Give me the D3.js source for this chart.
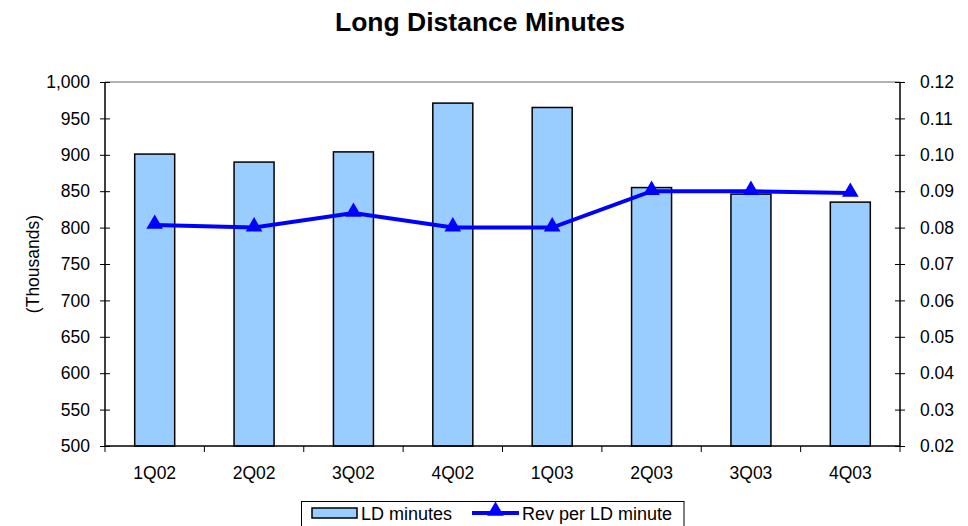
<!DOCTYPE html>
<html><head><meta charset="utf-8">
<script src="https://cdn.jsdelivr.net/npm/d3@7/dist/d3.min.js"></script>
<style>body{margin:0;background:#fff}svg{display:block;font-family:"Liberation Sans",Arial,sans-serif}</style>
</head><body><svg id="c" width="968" height="526"></svg>
<script>
const categories = ["1Q02","2Q02","3Q02","4Q02","1Q03","2Q03","3Q03","4Q03"];
const ldMinutes = [901, 890, 904, 971, 965, 855, 846, 835];
const revPerMinute = [0.0807, 0.0800, 0.0840, 0.0800, 0.0800, 0.0900, 0.0900, 0.0895];
const leftTicks = [500,550,600,650,700,750,800,850,900,950,1000];
const rightTicks = [0.02,0.03,0.04,0.05,0.06,0.07,0.08,0.09,0.10,0.11,0.12];

const svg = d3.select("#c");
const L = 105, R = 900, T = 82, B = 446;
const FS = 17.5;
const x = d3.scaleBand().domain(categories).range([L, R]);
const yL = d3.scaleLinear().domain([500, 1000]).range([B, T]);
const yR = d3.scaleLinear().domain([0.02, 0.12]).range([B, T]);
const barW = 40;

svg.append("text").attr("x", 480).attr("y", 31).attr("text-anchor", "middle")
  .attr("font-size", 26.5).attr("font-weight", "bold").text("Long Distance Minutes");

// plot top border
svg.append("line").attr("x1", L).attr("x2", R).attr("y1", T).attr("y2", T)
  .attr("stroke", "#999").attr("stroke-width", 1.5);

// bars
svg.append("g").selectAll("rect").data(ldMinutes).join("rect")
  .attr("x", (d, i) => x(categories[i]) + x.bandwidth() / 2 - barW / 2)
  .attr("y", d => yL(d)).attr("width", barW).attr("height", d => B - yL(d))
  .attr("fill", "#99CCFF").attr("stroke", "#000").attr("stroke-width", 1.5);

// left axis
const gl = svg.append("g").attr("transform", `translate(${L},0)`)
  .call(d3.axisLeft(yL).tickValues(leftTicks).tickFormat(d3.format(",")).tickSize(5).tickPadding(10));
gl.selectAll(".tick line").attr("x2", 5).attr("x1", -5);
// right axis
const gr = svg.append("g").attr("transform", `translate(${R},0)`)
  .call(d3.axisRight(yR).tickValues(rightTicks).tickFormat(d3.format(".2f")).tickSize(5).tickPadding(15));
gr.selectAll(".tick line").attr("x1", -5).attr("x2", 5);
// bottom axis
const gb = svg.append("g").attr("transform", `translate(0,${B})`)
  .call(d3.axisBottom(x).tickSize(0).tickPadding(21));
gb.selectAll(".tick text").attr("dy", "0.71em");
svg.append("g").selectAll("line").data(d3.range(categories.length + 1)).join("line")
  .attr("x1", i => L + i * x.step()).attr("x2", i => L + i * x.step())
  .attr("y1", B).attr("y2", B + 6).attr("stroke", "#000").attr("stroke-width", 1);

[gl, gr, gb].forEach(g => {
  g.selectAll(".domain").attr("stroke", "#000").attr("stroke-width", 1.5);
  g.selectAll(".tick line").attr("stroke", "#000");
  g.selectAll(".tick text").attr("font-size", FS).attr("fill", "#000").attr("font-family", "Liberation Sans, Arial, sans-serif");
});
gl.select(".domain").attr("d", `M0,${T}V${B}`);
gr.select(".domain").attr("d", `M0,${T}V${B}`);
gb.select(".domain").attr("d", `M${L},0H${R}`);

// y label
svg.append("text").attr("transform", `translate(39,${(T + B) / 2}) rotate(-90)`)
  .attr("text-anchor", "middle").attr("font-size", FS).text("(Thousands)");

// line
const cx = i => x(categories[i]) + x.bandwidth() / 2;
svg.append("path").datum(revPerMinute)
  .attr("d", d3.line().x((d, i) => cx(i)).y(d => yR(d)))
  .attr("fill", "none").attr("stroke", "#0000FF").attr("stroke-width", 4);
const tri = d3.symbol().type(d3.symbolTriangle).size(120);
svg.append("g").selectAll("path").data(revPerMinute).join("path")
  .attr("d", tri).attr("transform", (d, i) => `translate(${cx(i)},${yR(d) - 1})`)
  .attr("fill", "#0000FF");

// legend
const lg = svg.append("g");
lg.append("rect").attr("x", 301.5).attr("y", 501.5).attr("width", 382.5).attr("height", 30)
  .attr("fill", "#fff").attr("stroke", "#000").attr("stroke-width", 1);
lg.append("rect").attr("x", 312).attr("y", 508).attr("width", 45).attr("height", 10)
  .attr("fill", "#99CCFF").attr("stroke", "#000").attr("stroke-width", 1.5);
lg.append("text").attr("x", 361).attr("y", 519.5).attr("font-size", 18).text("LD minutes");
lg.append("line").attr("x1", 472).attr("x2", 519).attr("y1", 513).attr("y2", 513)
  .attr("stroke", "#0000FF").attr("stroke-width", 4);
lg.append("path").attr("d", tri).attr("transform", "translate(495.5,511)").attr("fill", "#0000FF");
lg.append("text").attr("x", 522).attr("y", 519.5).attr("font-size", 18).text("Rev per LD minute");
</script></body></html>
